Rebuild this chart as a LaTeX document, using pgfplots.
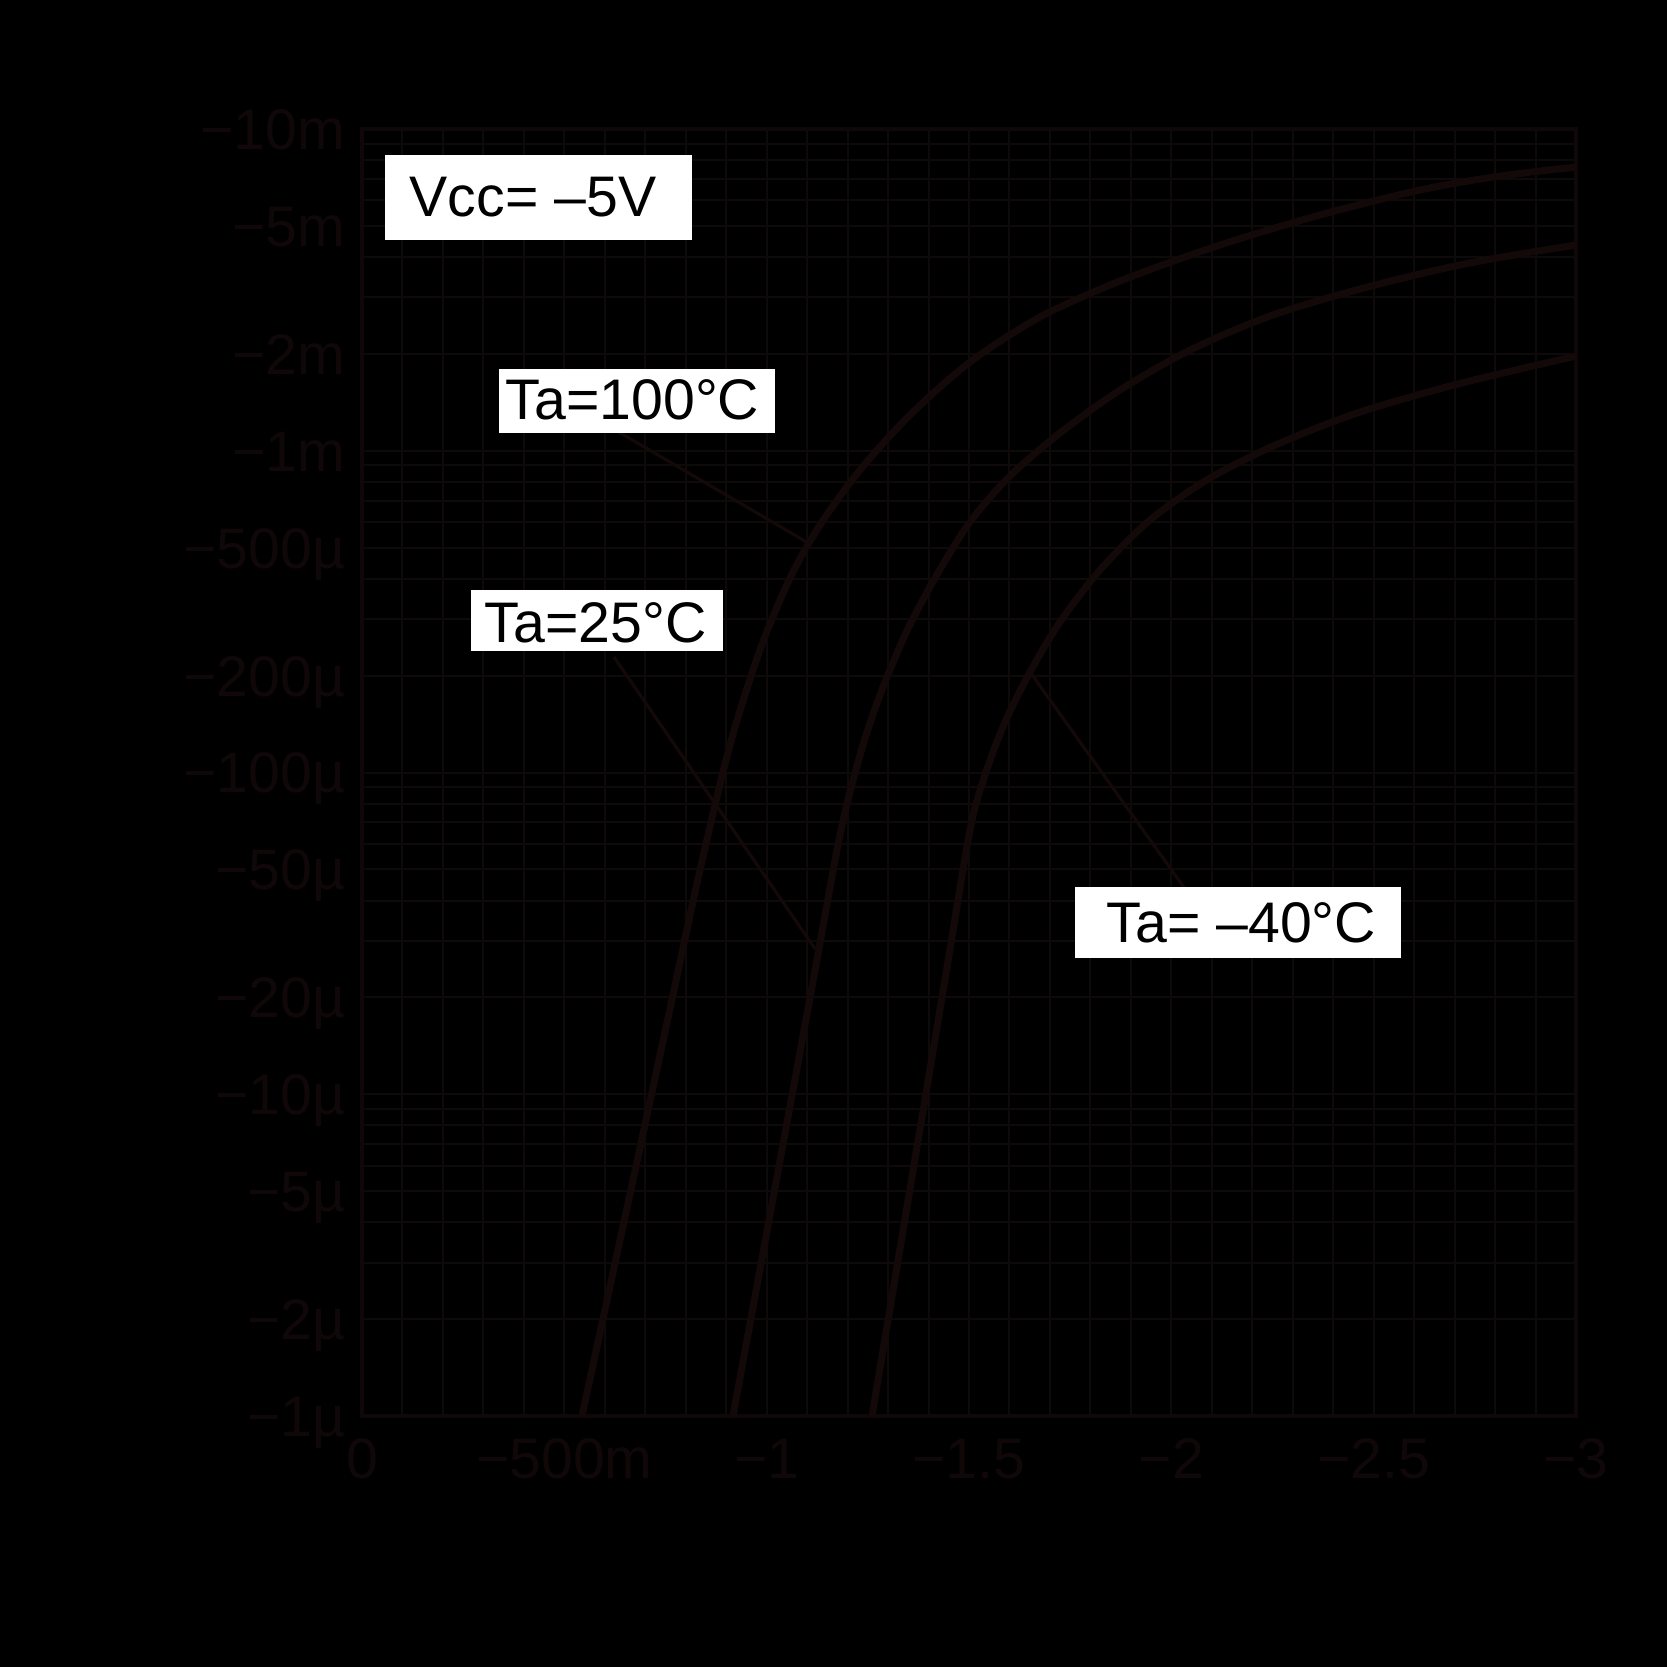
\documentclass[border=0pt]{standalone}
\usepackage{pgfplots}
\pgfplotsset{compat=1.18}
\usepackage{fontspec}
\setmainfont{Liberation Sans}
\definecolor{ink}{RGB}{16,8,8}
\definecolor{gridc}{RGB}{14,10,10}
\definecolor{curve}{RGB}{20,9,9}
\newcommand{\lbl}{\fontsize{14.3pt}{17pt}\selectfont}
\begin{document}
\begin{tikzpicture}
\fill[black] (0,0) rectangle (416.75pt,416.75pt);
\begin{axis}[
  at={(90.5pt,62.75pt)}, anchor=south west,
  scale only axis, width=303.5pt, height=321.75pt,
  xmin=-3, xmax=0, x dir=reverse,
  ymode=log, ymin=1e-6, ymax=1e-2,
  xtick={-3,-2.5,-2,-1.5,-1,-0.5,0},
  xticklabels={−3,−2.5,−2,−1.5,−1,−500m,0},
  minor x tick num=4,
  ytick={1e-6,2e-6,3e-6,4e-6,5e-6,6e-6,7e-6,8e-6,9e-6,
         1e-5,2e-5,3e-5,4e-5,5e-5,6e-5,7e-5,8e-5,9e-5,
         1e-4,2e-4,3e-4,4e-4,5e-4,6e-4,7e-4,8e-4,9e-4,
         1e-3,2e-3,3e-3,4e-3,5e-3,6e-3,7e-3,8e-3,9e-3,1e-2},
  yticklabels={−1µ,−2µ,{},{},−5µ,{},{},{},{},
               −10µ,−20µ,{},{},−50µ,{},{},{},{},
               −100µ,−200µ,{},{},−500µ,{},{},{},{},
               −1m,−2m,{},{},−5m,{},{},{},{},−10m},
  xmajorgrids, xminorgrids, ymajorgrids,
  grid style={gridc, line width=0.5pt},
  minor grid style={gridc, line width=0.5pt},
  major tick length=0pt, minor tick length=0pt,
  axis line style={ink, line width=1.2pt},
  tick label style={ink, font=\lbl},
  xticklabel style={anchor=north, inner sep=0pt, yshift=-5.5pt},
  yticklabel style={anchor=base east, inner sep=0pt, xshift=-4pt, yshift=-5.1pt},
]
% Ta = 100 C
\addplot[curve, line width=1.75pt, smooth, tension=0.5] coordinates {
(-0.5437,1.0e-6) (-0.6166,2.656e-6) (-0.6895,7.054e-6) (-0.7624,1.874e-5)
(-0.8353,4.977e-5) (-0.9094,1.218e-4) (-0.9835,2.403e-4)
(-1.0577,4.022e-4) (-1.1318,5.879e-4) (-1.2307,8.714e-4) (-1.3542,1.2915e-3)
(-1.5025,1.887e-3) (-1.6755,2.604e-3) (-1.8732,3.370e-3) (-2.1203,4.360e-3)
(-2.3674,5.404e-3) (-2.6145,6.463e-3) (-2.8122,7.143e-3) (-3.0,7.619e-3)};
% Ta = 25 C
\addplot[curve, line width=1.75pt, smooth, tension=0.5] coordinates {
(-0.9168,1.0e-6) (-0.9829,2.828e-6) (-1.0490,7.994e-6) (-1.1151,2.262e-5)
(-1.1812,6.393e-5) (-1.2307,1.1334e-4) (-1.2801,1.7413e-4)
(-1.3419,2.675e-4) (-1.4160,4.022e-4) (-1.5025,6.007e-4) (-1.6013,8.348e-4)
(-1.7249,1.1355e-3) (-1.8732,1.5445e-3) (-2.0462,2.056e-3) (-2.2438,2.623e-3)
(-2.4663,3.183e-3) (-2.6887,3.725e-3) (-2.8616,4.088e-3) (-3.0,4.360e-3)};
% Ta = -40 C
\addplot[curve, line width=1.75pt, smooth, tension=0.5] coordinates {
(-1.2603,1.0e-6) (-1.3209,2.853e-6) (-1.3814,8.139e-6) (-1.4420,2.323e-5)
(-1.5025,6.627e-5) (-1.5396,9.822e-5) (-1.5890,1.4355e-4)
(-1.6508,2.053e-4) (-1.7249,2.936e-4) (-1.8237,4.259e-4) (-1.9473,6.093e-4)
(-2.0956,8.230e-4) (-2.2686,1.0571e-3) (-2.4663,1.3195e-3) (-2.6887,1.5892e-3)
(-2.8616,1.795e-3) (-3.0,1.970e-3)};
% callout lines
\draw[curve, line width=0.8pt] (axis cs:-0.6302,1.152e-3) -- (axis cs:-1.1071,5.13e-4);
\draw[curve, line width=0.8pt] (axis cs:-0.6227,2.286e-4) -- (axis cs:-1.1200,2.828e-5);
\draw[curve, line width=0.8pt] (axis cs:-2.0536,4.016e-5) -- (axis cs:-1.6508,2.053e-4);
\end{axis}
\begin{scope}[x=0.25pt,y=-0.25pt,shift={(0pt,416.75pt)}]
\fill[white] (385,155) rectangle (692,240);
\node[anchor=base west, inner sep=0pt, font=\lbl, text=black] at (409,217) {Vcc= –5V};
\fill[white] (499,369) rectangle (775,433);
\node[anchor=base west, inner sep=0pt, font=\lbl, text=black] at (505,420) {Ta=100°C};
\fill[white] (471,590) rectangle (723,651);
\node[anchor=base west, inner sep=0pt, font=\lbl, text=black] at (484,643) {Ta=25°C};
\fill[white] (1075,887) rectangle (1401,958);
\node[anchor=base west, inner sep=0pt, font=\lbl, text=black] at (1106,943) {Ta= –40°C};
\end{scope}
\end{tikzpicture}
\end{document}
